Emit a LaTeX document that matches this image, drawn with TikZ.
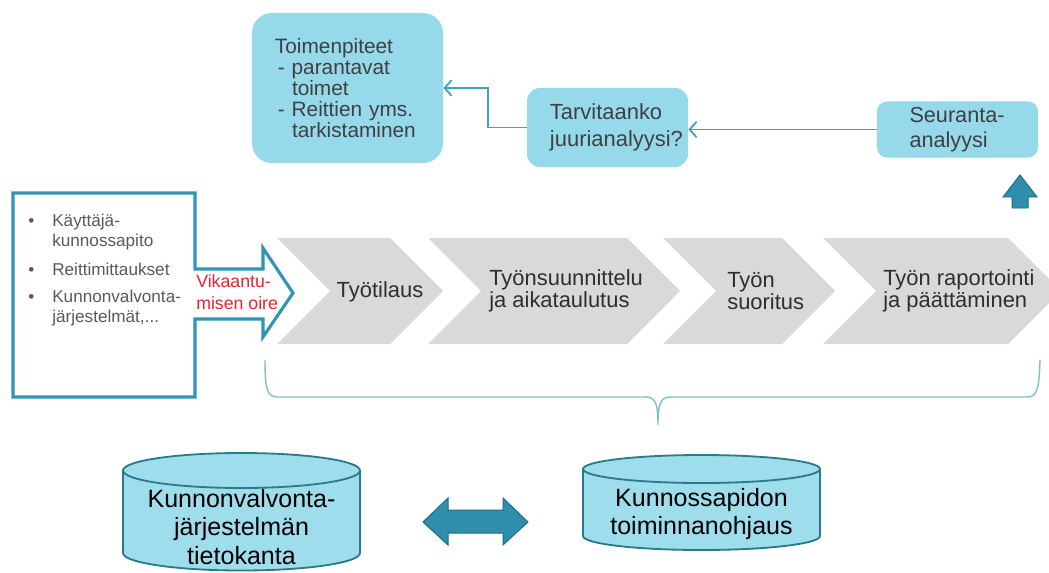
\documentclass[tikz,border=0pt]{standalone}
\usepackage{fontspec}
\setmainfont{Liberation Sans}
\usetikzlibrary{positioning,arrows.meta}

\definecolor{boxcyan}{HTML}{95D9EB}
\definecolor{boxtext}{HTML}{404040}
\definecolor{chevgray}{HTML}{D9D9D9}
\definecolor{chevtext}{HTML}{2E2E2E}
\definecolor{frameblue}{HTML}{2F94B6}
\definecolor{itemgray}{HTML}{5A5A5A}
\definecolor{alarmred}{HTML}{E52530}
\definecolor{cylfill}{HTML}{9EDDEC}
\definecolor{cylline}{HTML}{2A7A8E}
\definecolor{blockfill}{HTML}{2F8EAB}
\definecolor{blockline}{HTML}{1F6D84}
\definecolor{linkblue}{HTML}{3FA2C6}
\definecolor{bracecol}{HTML}{7DC2CC}

\begin{document}
\begin{tikzpicture}[x=0.025cm, y=-0.025cm]
    % Define styles
    \tikzstyle{topbox} = [rectangle, fill=boxcyan, text=boxtext, align=left, inner xsep=0.575cm, inner ysep=0pt]
    \tikzstyle{chevron} = [fill=chevgray]
    \tikzstyle{steplabel} = [inner sep=0pt, align=left, text=chevtext, font=\fontsize{15.6}{15.8}\selectfont]
    \tikzstyle{framebox} = [draw=frameblue, line width=2.2pt, fill=white, line join=miter]
    \tikzstyle{bulletitem} = [inner sep=0pt, align=left, text=itemgray, font=\fontsize{12.2}{14.2}\selectfont]
    \tikzstyle{cyl} = [fill=cylfill, draw=cylline, line width=1.3pt]
    \tikzstyle{dblabel} = [inner sep=0pt, align=center, font=\fontsize{17.8}{20.4}\selectfont]
    \tikzstyle{block} = [fill=blockfill, draw=blockline, line width=0.7pt, line join=miter]
    \tikzstyle{link} = [draw=linkblue, line width=1.3pt, -{Straight Barb[length=5pt,width=11pt]}]

    \useasboundingbox (0,0) rectangle (1049,572);

    % Process chevrons
    \foreach \l/\s in {277/390, 428/627, 663/782, 823/1008}
        \fill[chevron] (\l,238) -- (\s,238) -- (\s+53,291) -- (\s,344) -- (\l,344) -- (\l+53,291) -- cycle;

    \node[steplabel] (order) at (380,292) {Työtilaus};
    \node[steplabel, anchor=west] (planning) at (489,291) {Työnsuunnittelu\\ja aikataulutus};
    \node[steplabel, anchor=west] (execution) at (727,291) {Työn\\suoritus};
    \node[steplabel, anchor=west] (reporting) at (883,291) {Työn raportointi\\ja päättäminen};

    % Input box with arrow
    \draw[framebox] (13,193) -- (195,193) -- (195,269) -- (263,269) -- (263,248) -- (293,293)
        -- (263,337) -- (263,319) -- (195,319) -- (195,397) -- (13,397) -- cycle;

    \node[bulletitem, anchor=west] (selfmaint) at (52,232) {\llap{\textbullet\hspace{12.8pt}}Käyttäjä-\\kunnossapito};
    \node[bulletitem, anchor=west] (routes) at (52,269) {\llap{\textbullet\hspace{12.8pt}}Reittimittaukset};
    \node[bulletitem, anchor=west] (cmsystems) at (52,308) {\llap{\textbullet\hspace{12.8pt}}Kunnonvalvonta-\\järjestelmät,...};
    \node[inner sep=0pt, align=left, text=alarmred, font=\fontsize{12.6}{15.6}\selectfont, anchor=west] (symptom) at (196,292) {Vikaantu-\\misen oire};

    % Follow-up boxes
    \node[topbox, rounded corners=0.5cm, text width=3.625cm, minimum height=3.75cm, font=\fontsize{14.8}{14.8}\selectfont] (actions) at (347.5,88)
        {Toimenpiteet\\\hspace*{2pt}- parantavat\\\hspace*{12.1pt}toimet\\\hspace*{2pt}- Reittien yms.\\\hspace*{12.1pt}tarkistaminen};
    \node[topbox, rounded corners=0.33cm, text width=2.875cm, minimum height=1.975cm, font=\fontsize{15.6}{19}\selectfont] (rootcause) at (607.5,127.5)
        {Tarvitaanko\\\mbox{juurianalyysi?}};
    \node[topbox, rounded corners=0.25cm, text width=2.4cm, inner xsep=0.8125cm, minimum height=1.4cm, font=\fontsize{15.4}{17.5}\selectfont] (followup) at (957.5,129.5)
        {Seuranta-\\analyysi};

    % Connections
    \draw[link] (followup.west) -- (followup.west -| rootcause.east);
    \draw[link] (rootcause.west) -- ++(-39,0) |- (actions.east);

    % Up arrow
    \draw[block] (1012,208) -- (1012,197) -- (1003,197) -- (1020,175) -- (1037,197) -- (1028,197) -- (1028,208) -- cycle;

    % Brace under the process
    \draw[bracecol, line width=1pt] (265,360) .. controls (265,390) and (267,397) .. (278,397) -- (645,397)
        .. controls (655,397) and (658,402) .. (658,425) .. controls (658,402) and (661,397) .. (671,397)
        -- (1027,397) .. controls (1037,397) and (1039,390) .. (1040,360);

    % Databases
    \foreach \cx/\ya/\yb/\ry in {241.5/470.5/553/17.5, 701.5/469/536/14} {
        \filldraw[cyl] (\cx-118.5,\ya) -- (\cx-118.5,\yb) arc[start angle=180, end angle=0, x radius=118.5, y radius=\ry]
            -- (\cx+118.5,\ya) arc[start angle=0, end angle=-180, x radius=118.5, y radius=\ry] -- cycle;
        \draw[cyl, fill=none] (\cx-118.5,\ya) arc[start angle=180, end angle=0, x radius=118.5, y radius=\ry];
    }
    \node[dblabel] (monitordb) at (241.5,527) {Kunnonvalvonta-\\järjestelmän\\tietokanta};
    \node[dblabel] (cmmsdb) at (701.5,514) {Kunnossapidon\\toiminnanohjaus};

    % Double arrow between databases
    \draw[block] (423,522) -- (448,498) -- (448,510) -- (503,510) -- (503,498) -- (528,522)
        -- (503,545) -- (503,533) -- (448,533) -- (448,545) -- cycle;
\end{tikzpicture}
\end{document}
